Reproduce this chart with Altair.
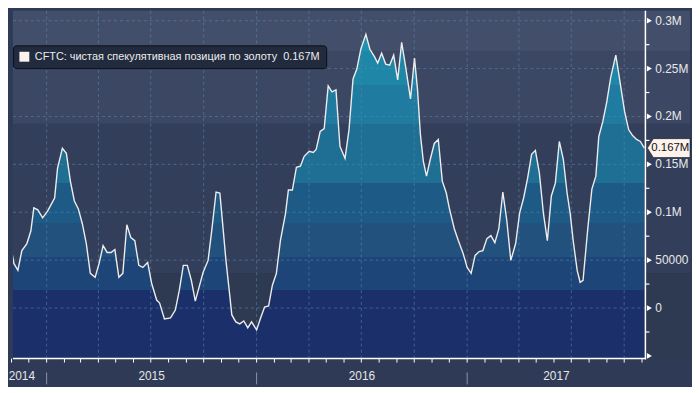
import altair as alt
import pandas as pd

# ---------------- data ----------------
dates_dec = [
    2014.802, 2014.811, 2014.825, 2014.844, 2014.863, 2014.882, 2014.906, 2014.925, 2014.939, 2014.958,
    2014.981, 2015.005, 2015.038, 2015.052, 2015.075, 2015.094, 2015.113, 2015.132, 2015.151, 2015.170,
    2015.189, 2015.208, 2015.231, 2015.250, 2015.269, 2015.288, 2015.307, 2015.325, 2015.344, 2015.363,
    2015.382, 2015.401, 2015.420, 2015.439, 2015.458, 2015.481, 2015.500, 2015.524, 2015.538, 2015.561,
    2015.590, 2015.613, 2015.632, 2015.651, 2015.670, 2015.689, 2015.708, 2015.745, 2015.769, 2015.788,
    2015.807, 2015.825, 2015.840, 2015.854, 2015.873, 2015.882, 2015.901, 2015.920, 2015.939, 2015.958,
    2015.976, 2016.000, 2016.019, 2016.038, 2016.057, 2016.075, 2016.094, 2016.113, 2016.137, 2016.151,
    2016.170, 2016.189, 2016.208, 2016.226, 2016.250, 2016.269, 2016.283, 2016.302, 2016.321, 2016.340,
    2016.358, 2016.377, 2016.396, 2016.420, 2016.439, 2016.458, 2016.476, 2016.495, 2016.519, 2016.538,
    2016.561, 2016.575, 2016.594, 2016.613, 2016.632, 2016.651, 2016.670, 2016.689, 2016.708, 2016.731,
    2016.750, 2016.764, 2016.778, 2016.792, 2016.807, 2016.825, 2016.844, 2016.863, 2016.882, 2016.901,
    2016.915, 2016.939, 2016.958, 2016.981, 2017.000, 2017.019, 2017.038, 2017.057, 2017.075, 2017.094,
    2017.113, 2017.132, 2017.151, 2017.170, 2017.189, 2017.208, 2017.231, 2017.250, 2017.269, 2017.288,
    2017.307, 2017.325, 2017.344, 2017.363, 2017.382, 2017.401, 2017.420, 2017.439, 2017.458, 2017.476,
    2017.491, 2017.505, 2017.524, 2017.538, 2017.552, 2017.575, 2017.594, 2017.613, 2017.627, 2017.646,
    2017.665, 2017.684, 2017.708, 2017.726, 2017.750, 2017.769, 2017.788, 2017.807, 2017.825, 2017.844,
]
values = [
    73500, 75600, 70400, 46600, 39300, 60000, 67300, 80700, 104600, 102500,
    94200, 101400, 114900, 146000, 166700, 161500, 132500, 111800, 103500, 88000,
    67300, 36200, 32100, 46600, 65200, 58000, 58000, 61100, 32100, 36200,
    87000, 73500, 70400, 44500, 42400, 47600, 25900, 8300, 5200, -11400,
    -10400, -2100, 18600, 44500, 44500, 29000, 7200, 37000, 49700, 83900,
    121100, 120100, 83900, 49700, 11400, -7200, -14500, -16600, -13500, -20700,
    -14500, -22800, -10400, 1000, 2100, 23800, 36200, 70400, 98300, 123200,
    123200, 147000, 148000, 158400, 163600, 162500, 165600, 184300, 187400, 231900,
    225700, 227700, 168700, 156300, 186300, 239100, 249500, 270200, 285700, 270200,
    261900, 255700, 266000, 254700, 253600, 264000, 238100, 277400, 251600, 218400,
    260900, 228800, 181200, 153200, 137700, 155300, 171800, 176000, 132500, 120100,
    104600, 82800, 70400, 56900, 42400, 36200, 54900, 59000, 60000, 72500,
    75600, 68300, 82800, 121100, 91100, 49700, 67300, 99400, 114900, 135600,
    160500, 164600, 140800, 99400, 70400, 117000, 130400, 173900, 155300, 120100,
    98300, 70400, 39300, 26900, 29000, 83900, 124200, 137700, 179100, 194600,
    215300, 241200, 264000, 239100, 205000, 186300, 180100, 176000, 173900, 167000,
]

series_name = "CFTC: чистая спекулятивная позиция по золоту\u00a0 0.167M"
last_label = "0.167M"
last_value = 167000

x_domain_dec = [2014.8396, 2017.849]
y_domain = [-52800, 310500]

# area colour bands (value thresholds, bottom -> top colours)
band_edges = [18600, 52800, 89000, 130400, 192500, 233000, 268000]
band_colors = ["#1b2f6b", "#1d4577", "#23517d", "#1d5a86", "#1f6e93",
               "#1f7b9f", "#1e86a6", "#2190b0"]

# background bands behind the plot
bg_lo = [-52800, 36200, 192500, 268000]
bg_hi = [36200, 192500, 268000, 310500]
bg_colors = ["#2e3a52", "#333f5a", "#3b4763", "#434f6a"]

y_tick_values = [-50000, 0, 50000, 100000, 150000, 200000, 250000, 300000]
y_tick_labels = ["", "0", "50000", "0.1M", "0.15M", "0.2M", "0.25M", "0.3M"]
y_minor_values = [-25000, 25000, 75000, 125000, 175000, 225000, 275000]
grid_values = [0, 50000, 100000, 150000, 200000, 250000, 300000]

year_labels = ["2014", "2015", "2016", "2017"]
year_label_pos = [2014.882, 2015.5, 2016.5, 2017.425]
year_starts = ["2015-01-01", "2016-01-01", "2017-01-01"]
quarter_starts = ["2015-01-01", "2015-04-01", "2015-07-01", "2015-10-01",
                  "2016-01-01", "2016-04-01", "2016-07-01", "2016-10-01",
                  "2017-01-01", "2017-04-01", "2017-07-01", "2017-10-01"]

FONT = "Liberation Sans"
W, H = 638, 351          # plot area
RIGHT = 683              # right edge of the whole chart
BOTTOM = 377             # bottom edge of the whole chart
GRID = "#5b8db3"


def dec_to_date(d):
    y = int(d // 1)
    s = pd.Timestamp(year=y, month=1, day=1)
    e = pd.Timestamp(year=y + 1, month=1, day=1)
    return s + (e - s) * (d - y)


df = pd.DataFrame({"date": [dec_to_date(d) for d in dates_dec],
                   "value": values,
                   "series": series_name})

xscale = alt.Scale(domain=[dec_to_date(x_domain_dec[0]).isoformat(),
                           dec_to_date(x_domain_dec[1]).isoformat()])
yscale = alt.Scale(domain=y_domain, nice=False, zero=False)

# gradient stops for banded area fill (relative to area bbox)
vmax = max(values)
vmin = y_domain[0]


def off(v):
    return (vmax - v) / (vmax - vmin)


edges_desc = sorted(band_edges, reverse=True)
colors_desc = band_colors[::-1]
stops = []
prev = 0.0
for i, c in enumerate(colors_desc):
    end = off(edges_desc[i]) if i < len(edges_desc) else 1.0
    end = min(max(end, 0.0), 1.0)
    stops.append(alt.GradientStop(offset=prev, color=c))
    stops.append(alt.GradientStop(offset=end, color=c))
    prev = end

grad = alt.LinearGradient(gradient="linear", stops=stops, x1=0, x2=0, y1=0, y2=1)

# ---------------- layers ----------------
bg_df = pd.DataFrame({"lo": bg_lo, "hi": bg_hi, "c": bg_colors})
bg = alt.Chart(bg_df).mark_rect(strokeWidth=0).encode(
    y=alt.Y("lo:Q", scale=yscale, axis=None),
    y2="hi:Q",
    x=alt.value(0),
    x2=alt.value(RIGHT),
    fill=alt.Fill("c:N", scale=None, legend=None),
)

area = alt.Chart(df).mark_area(clip=True, color=grad, interpolate="linear").encode(
    x=alt.X("date:T", scale=xscale, axis=None),
    y=alt.Y("value:Q", scale=yscale, axis=None),
    y2=alt.datum(y_domain[0]),
)

hgrid = alt.Chart(pd.DataFrame({"v": grid_values})).mark_rule(
    strokeDash=[3, 3], color=GRID, opacity=0.55, strokeWidth=1
).encode(y=alt.Y("v:Q", scale=yscale, axis=None), x=alt.value(0), x2=alt.value(W))

vgrid = alt.Chart(pd.DataFrame({"d": pd.to_datetime(quarter_starts)})).mark_rule(
    strokeDash=[3, 3], color=GRID, opacity=0.55, strokeWidth=1
).encode(x=alt.X("d:T", scale=xscale, axis=None), y=alt.value(0), y2=alt.value(H))

line = alt.Chart(df).mark_line(clip=True, strokeWidth=1.4).encode(
    x=alt.X("date:T", scale=xscale, axis=None),
    y=alt.Y("value:Q", scale=yscale, axis=None),
    color=alt.Color("series:N", scale=alt.Scale(range=["#ededed"]),
                    legend=alt.Legend(title=None, orient="none", legendX=0, legendY=35,
                                      symbolType="square", symbolSize=100,
                                      symbolFillColor="#fdf1ec", symbolStrokeColor="#fdf1ec",
                                      symbolStrokeWidth=0,
                                      labelColor="#ececec", labelFont=FONT, labelFontSize=11,
                                      labelOffset=5, labelLimit=600,
                                      fillColor="#222a3e", strokeColor="#0b0f18",
                                      cornerRadius=3, padding=6)),
)

# axis lines (drawn as marks)
ydomain = alt.Chart(pd.DataFrame({"v": [y_domain[0]]})).mark_rule(
    color="#ffffff", strokeWidth=1.5
).encode(x=alt.value(W), y=alt.value(0), y2=alt.value(H + 1))

xdomain = alt.Chart(pd.DataFrame({"v": [y_domain[0]]})).mark_rule(
    color="#ffffff", strokeWidth=1.5
).encode(y=alt.value(H), x=alt.value(0), x2=alt.value(W))

yminor = alt.Chart(pd.DataFrame({"v": y_minor_values})).mark_rule(
    color="#ffffff", strokeWidth=1.2
).encode(y=alt.Y("v:Q", scale=yscale, axis=None), x=alt.value(W), x2=alt.value(W + 4))

tri = alt.Chart(pd.DataFrame({"v": y_tick_values})).mark_point(
    shape="triangle-right", filled=True, color="#ffffff", size=34, opacity=1
).encode(y=alt.Y("v:Q", scale=yscale, axis=None), x=alt.value(W + 4))

ylab = alt.Chart(pd.DataFrame({"v": y_tick_values, "t": y_tick_labels})).mark_text(
    align="left", baseline="middle", font=FONT, fontSize=12, color="#e8e8e8"
).encode(y=alt.Y("v:Q", scale=yscale, axis=None), x=alt.value(W + 10), text="t:N")

# current-value tag (arrow box) from W+2 to RIGHT
tag_w = RIGHT - (W + 2)
half = tag_w / 2
hh = 9.5 / half
ab = -1 + 6 / half
tag_path = f"M -1 0 L {ab:.3f} {-hh:.3f} L 1 {-hh:.3f} L 1 {hh:.3f} L {ab:.3f} {hh:.3f} Z"
tag_df = pd.DataFrame({"v": [last_value], "t": [last_label]})
tag = alt.Chart(tag_df).mark_point(
    shape=tag_path, filled=True, fill="#fdf3ec", stroke="#1a1a1a", strokeWidth=0.6,
    size=tag_w * tag_w, opacity=1
).encode(y=alt.Y("v:Q", scale=yscale, axis=None), x=alt.value(W + 2 + half))

tag_text = alt.Chart(tag_df).mark_text(
    align="left", baseline="middle", font=FONT, fontSize=11.5, color="#111111"
).encode(y=alt.Y("v:Q", scale=yscale, axis=None), x=alt.value(W + 6), text="t:N")

months = pd.date_range("2014-11-01", "2017-11-01", freq="MS")
mticks = alt.Chart(pd.DataFrame({"d": months})).mark_rule(color="#ffffff", strokeWidth=1).encode(
    x=alt.X("d:T", scale=xscale, axis=None), y=alt.value(H), y2=alt.value(H + 4))

seps = alt.Chart(pd.DataFrame({"d": pd.to_datetime(year_starts)})).mark_rule(
    color="#8a93a6", strokeWidth=1
).encode(x=alt.X("d:T", scale=xscale, axis=None), y=alt.value(H + 14), y2=alt.value(BOTTOM))

ytext = alt.Chart(pd.DataFrame({"d": [dec_to_date(p) for p in year_label_pos],
                                "t": year_labels})).mark_text(
    align="center", baseline="middle", font=FONT, fontSize=12, color="#e6e6e6"
).encode(x=alt.X("d:T", scale=xscale, axis=None), y=alt.value(H + 18), text="t:N")

chart = alt.layer(bg, area, hgrid, vgrid, line, ydomain, xdomain, yminor, tri, ylab,
                  tag, tag_text, mticks, seps, ytext).properties(
    width=W, height=H, padding=0, background="#2f3b56"
).configure_view(stroke=None)

chart.save("out.html", embed_options={"renderer": "svg", "actions": False})
